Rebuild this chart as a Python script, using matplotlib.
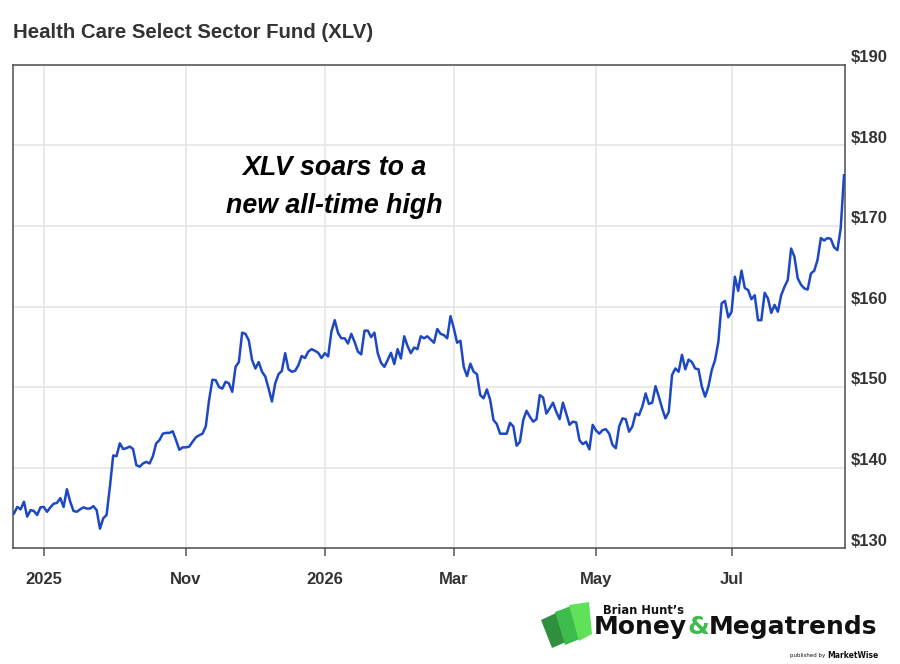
import matplotlib
matplotlib.use("Agg")
import matplotlib.pyplot as plt
from matplotlib.patches import Polygon

plt.rcParams['font.family'] = ['Liberation Sans', 'DejaVu Sans']

# daily closes of XLV, one per trading day
prices = [
    134.3, 135.1, 134.8, 135.75, 133.9, 134.7, 134.6, 134.1, 135.05, 135.1,
    134.5, 135.05, 135.5, 135.6, 136.2, 135.1, 137.3, 135.75, 134.6, 134.5,
    134.8, 135.05, 134.9, 134.9, 135.2, 134.7, 132.4, 133.7, 134.1, 137.6,
    141.5, 141.4, 143.0, 142.3, 142.4, 142.6, 142.3, 140.3, 140.1, 140.5,
    140.7, 140.5, 141.4, 143.0, 143.4, 144.2, 144.3, 144.3, 144.5, 143.4,
    142.2, 142.5, 142.5, 142.6,
    143.2, 143.75, 144.0, 144.2, 145.1, 148.4, 150.9, 150.85, 150.0, 149.8,
    150.65, 150.45, 149.4, 152.5, 153.1, 156.75, 156.6, 155.8, 153.35, 152.3,
    153.1, 151.9, 151.3, 149.8, 148.2, 150.45, 151.6, 152.0, 154.2, 152.2,
    151.9, 152.0, 152.7, 153.85, 153.6, 154.4, 154.7, 154.5, 154.25, 153.6,
    154.2, 153.8,
    156.9, 158.3, 156.7, 156.05, 156.05, 155.4, 156.6, 155.6, 154.4, 154.05,
    157.0, 157.0, 156.2, 156.75, 154.2, 153.0, 152.5, 153.35, 154.25, 152.85,
    154.7, 153.55, 156.3, 155.1, 154.2, 154.9, 154.7, 156.3, 156.05, 156.3,
    155.9, 155.5, 157.2, 156.6, 156.45, 156.05, 158.8, 157.3, 155.5, 155.75,
    152.5, 151.35, 152.9, 151.9, 151.6,
    149.0, 148.6, 149.7, 148.4, 145.9, 145.4, 144.2, 144.2, 144.2, 145.55,
    145.1, 142.7, 143.2, 145.9, 147.05, 146.3, 145.7, 146.0, 149.0, 148.7,
    146.7, 147.35, 148.05, 146.9, 146.0, 148.05, 146.7, 145.3, 145.7, 145.6,
    143.4, 142.9, 143.2, 142.25, 145.3, 144.6, 144.2, 144.65, 144.75, 144.2,
    142.8, 142.4, 145.1, 146.1, 146.0, 144.45, 145.1, 146.7, 146.5,
    147.55, 149.2, 147.9, 148.05, 150.1, 148.8, 147.35, 146.1, 146.9, 151.5,
    152.3, 151.9, 154.0, 152.2, 153.4, 153.1, 152.3, 152.2, 150.05, 148.8,
    150.05, 152.1, 153.35, 155.6, 160.4, 160.7, 158.65, 159.35, 163.7, 161.95,
    164.45, 162.3, 162.05, 160.9, 161.4,
    158.3, 158.3, 161.7, 161.0, 159.2, 160.2, 159.35, 161.4, 162.45, 163.3,
    167.2, 166.2, 163.5, 162.7, 162.25, 162.1, 164.1, 164.45, 165.8, 168.5,
    168.2, 168.5, 168.4, 167.35, 167.0, 169.7, 176.3,
]
days = list(range(len(prices)))

# first trading day of each labelled month
month_idx = [9, 52, 94, 133, 176, 217]
month_labels = ['2025', 'Nov', '2026', 'Mar', 'May', 'Jul']
y_ticks = [130, 140, 150, 160, 170, 180, 190]

W, H = 900, 664
fig = plt.figure(figsize=(W / 100, H / 100), dpi=100)
ax = fig.add_axes([13 / W, 1 - 548 / H, 832 / W, 483 / H])

ax.plot(days, prices, color='#1d48c4', lw=1.8, solid_joinstyle='round', zorder=3)

ax.set_xlim(-0.3, len(prices) - 0.7)
ax.set_ylim(130, 190)
ax.set_xticks(month_idx)
ax.set_xticklabels(month_labels, fontsize=12, fontweight='bold', color='#333333')
ax.set_yticks(y_ticks)
ax.tick_params(axis='x', length=6, width=1.1, color='#555555', pad=11)
ax.tick_params(axis='y', length=0, labelleft=False, labelright=False)
ax.grid(True, color='#e6e6e6', lw=1.2, zorder=0)
for s in ax.spines.values():
    s.set_color('#4d4d4d')
    s.set_linewidth(1.1)

# price labels sit just above their gridline on the right
for v in y_ticks:
    ax.annotate(f'${v}', xy=(1, v), xycoords=('axes fraction', 'data'),
                xytext=(6, 7), textcoords='offset pixels',
                ha='left', va='center', fontsize=12, fontweight='bold',
                color='#333333', annotation_clip=False)

fig.text(13 / W, 1 - 32 / H, 'Health Care Select Sector Fund (XLV)',
         fontsize=14.7, fontweight='bold', color='#333333', va='center', ha='left')

ax.text(0.386, 0.748, 'XLV soars to a\nnew all-time high', transform=ax.transAxes,
        ha='center', va='center', fontsize=19.3, fontweight='bold', style='italic',
        color='black', linespacing=1.6)

# logo
greens = ['#2f8f3f', '#3dbb4c', '#5fe25a']
shapes = [
    [(541, 620), (556, 613), (566, 642), (552, 648)],
    [(555, 612), (571, 606), (580, 639), (565, 645)],
    [(569, 605), (589, 602), (592, 634), (579, 641)],
]
for c, pts in zip(greens, shapes):
    fig.add_artist(Polygon([(x / W, 1 - y / H) for x, y in pts], closed=True,
                           transform=fig.transFigure, color=c, lw=0))

fig.text(603 / W, 1 - 610 / H, 'Brian Hunt\u2019s', fontsize=8.3, fontweight='bold',
         family='DejaVu Sans', color='#111111', va='center', ha='left')
t1 = fig.text(594 / W, 1 - 634 / H, 'Money', fontsize=18, fontweight='bold',
              family='DejaVu Sans', color='#111111', va='baseline', ha='left')
t2 = ax.annotate('&', xy=(1, 0), xycoords=t1, xytext=(0, 0), textcoords='offset points',
                 fontsize=18, fontweight='bold', family='DejaVu Sans', color='#3dbb4c',
                 va='bottom', ha='left', annotation_clip=False)
ax.annotate('Megatrends', xy=(1, 0), xycoords=t2, fontsize=18, fontweight='bold',
            family='DejaVu Sans', color='#111111', va='bottom', ha='left',
            annotation_clip=False)
t_mw = fig.text(878 / W, 1 - 656 / H, 'MarketWise', fontsize=5.5, fontweight='bold',
                family='DejaVu Sans', color='#111111', va='center', ha='right')
ax.annotate('published by', xy=(0, 0.5), xycoords=t_mw, xytext=(-2, 0),
            textcoords='offset pixels', fontsize=4, family='DejaVu Sans',
            color='#111111', va='center', ha='right', annotation_clip=False)

fig.savefig('out.png', dpi=100)
